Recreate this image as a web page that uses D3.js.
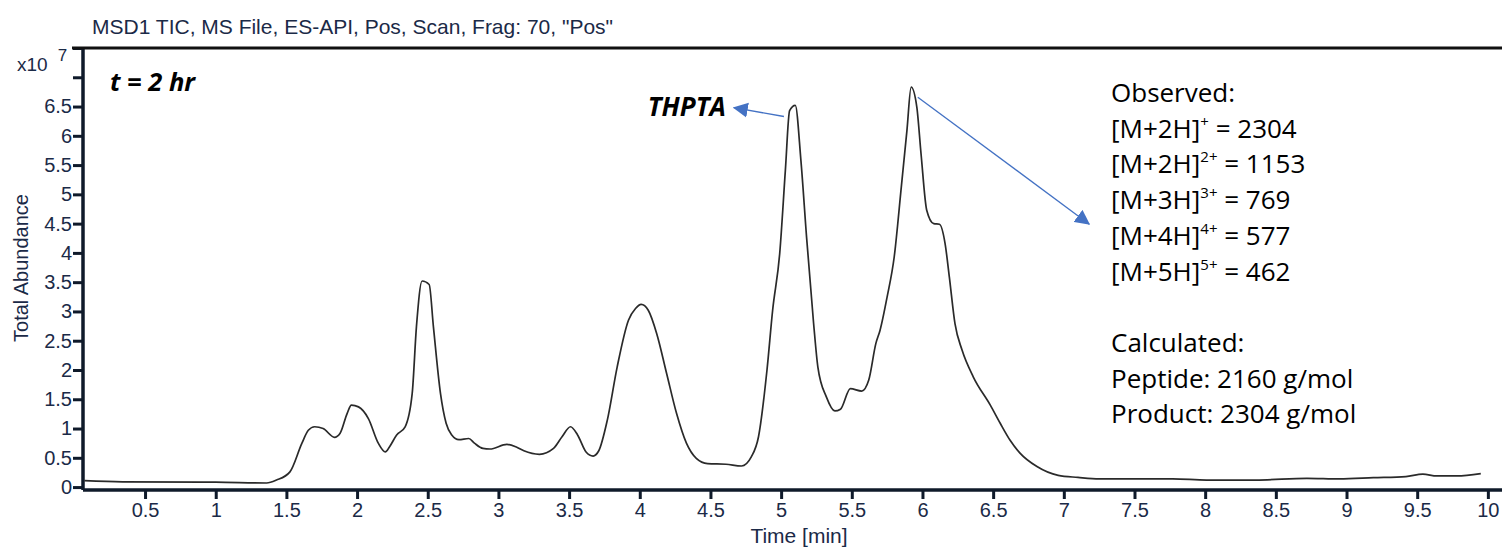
<!DOCTYPE html>
<html>
<head>
<meta charset="utf-8">
<script src="https://cdn.jsdelivr.net/npm/d3@7"></script>
<style>
  body { margin: 0; background: #fff; }
  svg { display: block; }
</style>
</head>
<body>
<div id="chart"></div>
<script>
// retention time (min) and total abundance (x10^7)
var times = [0.07, 0.34, 1.00, 1.36, 1.43, 1.525, 1.61, 1.655, 1.70, 1.76, 1.84, 1.88, 1.93, 1.96,
  2.01, 2.08, 2.15, 2.20, 2.23, 2.28, 2.34, 2.39, 2.42, 2.46, 2.51, 2.54, 2.59, 2.63, 2.67, 2.72,
  2.79, 2.83, 2.89, 2.94, 3.06, 3.13, 3.18, 3.29, 3.39, 3.45, 3.51, 3.56, 3.62, 3.67, 3.71, 3.77,
  3.84, 3.92, 3.97, 4.01, 4.06, 4.12, 4.19, 4.26, 4.33, 4.40, 4.48, 4.61, 4.72, 4.79, 4.84, 4.90,
  4.94, 4.99, 5.03, 5.06, 5.10, 5.14, 5.18, 5.23, 5.26, 5.32, 5.38, 5.42, 5.49, 5.57, 5.62, 5.67,
  5.70, 5.75, 5.80, 5.85, 5.89, 5.92, 5.96, 5.99, 6.03, 6.08, 6.12, 6.16, 6.19, 6.23, 6.28, 6.36,
  6.48, 6.55, 6.62, 6.69, 6.81, 6.96, 7.10, 7.25, 7.54, 7.77, 8.01, 8.36, 8.72, 8.95, 9.19, 9.42,
  9.54, 9.64, 9.78, 9.95];
var abundance = [0.11, 0.09, 0.085, 0.07, 0.12, 0.26, 0.75, 0.97, 1.03, 1.00, 0.85, 0.92, 1.26, 1.40,
  1.37, 1.17, 0.75, 0.60, 0.69, 0.89, 1.03, 1.60, 2.74, 3.52, 3.46, 2.74, 1.60, 1.09, 0.89, 0.81,
  0.83, 0.75, 0.66, 0.65, 0.73, 0.68, 0.62, 0.56, 0.66, 0.86, 1.03, 0.89, 0.60, 0.53, 0.62, 1.14,
  2.05, 2.85, 3.05, 3.12, 3.02, 2.62, 1.94, 1.26, 0.75, 0.49, 0.40, 0.39, 0.36, 0.52, 0.86, 2.00,
  3.02, 3.99, 5.41, 6.43, 6.52, 5.58, 4.27, 2.79, 2.05, 1.54, 1.30, 1.33, 1.68, 1.64, 1.83, 2.45,
  2.68, 3.25, 3.93, 5.12, 6.09, 6.83, 6.49, 5.69, 4.73, 4.50, 4.49, 4.16, 3.59, 2.79, 2.34, 1.88,
  1.40, 1.09, 0.80, 0.58, 0.35, 0.20, 0.165, 0.14, 0.14, 0.14, 0.12, 0.12, 0.15, 0.14, 0.16, 0.18,
  0.22, 0.19, 0.19, 0.23];

var xTicks = [0.5, 1, 1.5, 2, 2.5, 3, 3.5, 4, 4.5, 5, 5.5, 6, 6.5, 7, 7.5, 8, 8.5, 9, 9.5, 10];
var yTicks = [0, 0.5, 1, 1.5, 2, 2.5, 3, 3.5, 4, 4.5, 5, 5.5, 6, 6.5, 7, 7.5];
var yLabelled = [0, 0.5, 1, 1.5, 2, 2.5, 3, 3.5, 4, 4.5, 5, 5.5, 6, 6.5];

// mass spec annotation
var obsIons = ["[M+2H]", "[M+2H]", "[M+3H]", "[M+4H]", "[M+5H]"];
var obsCharges = ["+", "2+", "3+", "4+", "5+"];
var obsMz = [2304, 1153, 769, 577, 462];
var calcLines = ["Calculated:", "Peptide: 2160 g/mol", "Product: 2304 g/mol"];

// arrows: [from time, from abundance, to time, to abundance]
var thptaArrow = [5.02, 6.33, 4.665, 6.48];
var productArrow = [5.967, 6.66, 7.18, 4.49];

var W = 1502, H = 548;
var margin = {top: 48, right: 0, bottom: 58, left: 83};
var w = W - margin.left - margin.right;
var h = H - margin.top - margin.bottom;

var axisColor = "#0f1a2a";
var labelColor = "#1b2a47";

var svg = d3.select("#chart").append("svg")
    .attr("width", W)
    .attr("height", H)
    .style("font-family", "'Liberation Sans', Arial, sans-serif");

var g = svg.append("g")
    .attr("transform", "translate(" + margin.left + "," + margin.top + ")");

var x = d3.scaleLinear().domain([0.061, 10.10]).range([0, w]);
var y = d3.scaleLinear().domain([-0.05, 7.5]).range([h, 0]);

var defs = svg.append("defs");
defs.append("marker")
    .attr("id", "head")
    .attr("markerUnits", "userSpaceOnUse")
    .attr("viewBox", "0 -8 15 16")
    .attr("refX", 14)
    .attr("refY", 0)
    .attr("markerWidth", 15)
    .attr("markerHeight", 16)
    .attr("orient", "auto")
  .append("path")
    .attr("d", "M0,-7.5L15,0L0,7.5Z")
    .attr("fill", "#4472c4");

// title
svg.append("text")
    .attr("x", 92)
    .attr("y", 34)
    .style("font-size", "21px")
    .style("fill", labelColor)
    .text("MSD1 TIC, MS File, ES-API, Pos, Scan, Frag: 70, \"Pos\"");

// axes
var xAxis = g.append("g")
    .attr("transform", "translate(0," + h + ")")
    .call(d3.axisBottom(x).tickValues(xTicks).tickSize(9).tickPadding(4)
      .tickFormat(function(d) { return d; }));

var yAxis = g.append("g")
    .call(d3.axisLeft(y).tickValues(yTicks).tickSize(10).tickPadding(1)
      .tickFormat(function(d) { return yLabelled.indexOf(d) >= 0 ? d : ""; }));

[xAxis, yAxis].forEach(function(a) {
  a.select(".domain").attr("stroke", axisColor).attr("stroke-width", 3.5);
  a.selectAll(".tick line").attr("stroke", axisColor).attr("stroke-width", 3);
  a.selectAll(".tick text")
    .style("font-size", "20px")
    .style("font-family", "'Liberation Sans', Arial, sans-serif")
    .style("fill", labelColor);
});
xAxis.select(".domain").attr("d", "M0,0H" + w);
yAxis.select(".domain").attr("d", "M0," + h + "V0");

// top frame line
g.append("line")
    .attr("x1", -11).attr("x2", w)
    .attr("y1", 0).attr("y2", 0)
    .attr("stroke", "#111")
    .attr("stroke-width", 3);

// axis titles
svg.append("text")
    .attr("x", 799)
    .attr("y", 543)
    .attr("text-anchor", "middle")
    .style("font-size", "21px")
    .style("fill", labelColor)
    .text("Time [min]");

svg.append("text")
    .attr("transform", "translate(28,268) rotate(-90)")
    .attr("text-anchor", "middle")
    .style("font-size", "20px")
    .style("fill", labelColor)
    .text("Total Abundance");

var expo = svg.append("text")
    .attr("x", 17)
    .attr("y", 71)
    .style("font-size", "19px")
    .style("fill", labelColor);
expo.append("tspan").text("x10");
expo.append("tspan").attr("dx", 10).attr("dy", -10).style("font-size", "17px").text("7");

// TIC trace
var pts = times.map(function(t, i) { return [t, abundance[i]]; });
var line = d3.line()
    .x(function(d) { return x(d[0]); })
    .y(function(d) { return y(d[1]); })
    .curve(d3.curveMonotoneX);

g.append("path")
    .datum(pts)
    .attr("d", line)
    .attr("fill", "none")
    .attr("stroke", "#2a2a2a")
    .attr("stroke-width", 1.7)
    .attr("stroke-linejoin", "round");

// annotations
g.append("text")
    .attr("x", 110 - margin.left)
    .attr("y", 91 - margin.top)
    .style("font-family", "'Open Sans', sans-serif")
    .style("font-size", "25.5px")
    .style("font-weight", "bold")
    .style("font-style", "italic")
    .style("fill", "#000")
    .text("t = 2 hr");

[thptaArrow, productArrow].forEach(function(a) {
  g.append("line")
      .attr("x1", x(a[0])).attr("y1", y(a[1]))
      .attr("x2", x(a[2])).attr("y2", y(a[3]))
      .attr("stroke", "#4472c4")
      .attr("stroke-width", 1.3)
      .attr("marker-end", "url(#head)");
});

g.append("text")
    .attr("x", x(thptaArrow[2]) - 8)
    .attr("y", y(thptaArrow[3]) + 8)
    .attr("text-anchor", "end")
    .style("font-family", "'Open Sans', sans-serif")
    .style("font-size", "26px")
    .style("font-weight", "bold")
    .style("font-style", "italic")
    .style("fill", "#000")
    .text("THPTA");

var block = svg.append("g")
    .attr("transform", "translate(1111,102)")
    .style("font-family", "'Open Sans', sans-serif")
    .style("font-size", "26px")
    .style("fill", "#000");

var lh = 35.7;
block.append("text").attr("y", 0).text("Observed:");
obsIons.forEach(function(ion, i) {
  var t = block.append("text").attr("y", (i + 1) * lh);
  t.append("tspan").text(ion);
  t.append("tspan").attr("dy", -11).style("font-size", "15px").text(obsCharges[i]);
  t.append("tspan").attr("dy", 11).text(" = " + obsMz[i]);
});
calcLines.forEach(function(s, i) {
  block.append("text").attr("y", (i + 7) * lh).text(s);
});
</script>
</body>
</html>
